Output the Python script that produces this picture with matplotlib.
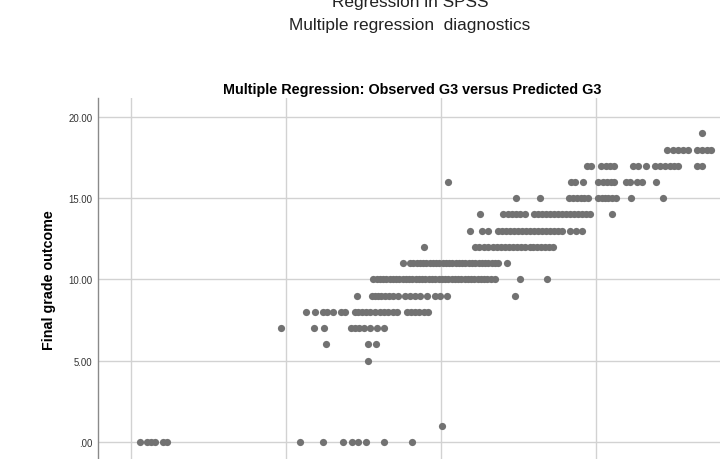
import numpy as np
import matplotlib
matplotlib.use("Agg")
import matplotlib.pyplot as plt

plt.rcParams['font.family'] = ['Liberation Sans', 'DejaVu Sans']

# predicted G3 values, grouped by observed final grade (G3)
g0 = [0.29, 0.52, 0.65, 0.77, 1.03, 1.16, 5.45, 6.19, 6.84, 7.13, 7.32, 7.58, 8.16, 9.06]
g1 = [10.02]
g5 = [7.64]
g6 = [6.29, 7.64, 7.90]
g7 = [4.83, 5.89, 6.24, 7.10, 7.23, 7.35, 7.52, 7.71, 7.94, 8.16]
g8 = [5.64, 5.94, 6.19, 6.32, 6.52, 6.77, 6.90, 7.23, 7.32, 7.45, 7.58, 7.71, 7.87,
      8.03, 8.16, 8.29, 8.45, 8.58, 8.90, 9.03, 9.16, 9.29, 9.45, 9.58]
g9 = [7.29, 7.77, 7.87, 7.97, 8.06, 8.19, 8.32, 8.45, 8.61, 8.84, 9.00, 9.16, 9.32,
      9.55, 9.81, 9.97, 10.18, 12.39]
g10 = [7.81, 7.92, 8.03, 8.13, 8.24, 8.35, 8.45, 8.55, 8.66, 8.76, 8.87, 8.97, 9.08,
       9.18, 9.29, 9.39, 9.50, 9.60, 9.71, 9.82, 9.92, 10.03, 10.13, 10.24, 10.34,
       10.45, 10.55, 10.66, 10.76, 10.87, 10.97, 11.08, 11.18, 11.29, 11.39, 11.50,
       11.61, 11.74, 12.55, 13.42]
g11 = [8.76, 9.00, 9.10, 9.21, 9.32, 9.42, 9.53, 9.63, 9.74, 9.84, 9.95, 10.05, 10.16,
       10.26, 10.37, 10.47, 10.58, 10.68, 10.79, 10.89, 11.00, 11.10, 11.21, 11.31,
       11.42, 11.52, 11.63, 11.73, 11.84, 12.14]
g12 = [9.45, 11.10, 11.24, 11.39, 11.53, 11.68, 11.81, 11.94, 12.06, 12.19, 12.32,
       12.45, 12.58, 12.71, 12.87, 12.97, 13.10, 13.23, 13.35, 13.48, 13.61]
g13 = [10.94, 11.31, 11.52, 11.84, 11.97, 12.10, 12.23, 12.35, 12.48, 12.61, 12.74,
       12.87, 13.00, 13.13, 13.26, 13.39, 13.52, 13.65, 13.77, 13.90, 14.16, 14.35, 14.55]
g14 = [11.26, 12.00, 12.15, 12.29, 12.42, 12.56, 12.71, 13.00, 13.13, 13.26, 13.39,
       13.52, 13.65, 13.77, 13.90, 14.03, 14.16, 14.29, 14.42, 14.55, 14.68, 14.81, 15.51]
g15 = [12.41, 13.19, 14.14, 14.27, 14.40, 14.51, 14.61, 14.75, 15.07, 15.18, 15.29,
       15.39, 15.50, 15.64, 16.14, 17.17]
g16 = [10.22, 14.18, 14.32, 14.57, 15.06, 15.22, 15.35, 15.47, 15.59, 15.96, 16.10,
       16.31, 16.47, 16.93]
g17 = [14.70, 14.83, 15.16, 15.32, 15.45, 15.58, 16.20, 16.36, 16.61, 16.90, 17.06,
       17.23, 17.39, 17.52, 17.65, 18.25, 18.41]
g18 = [17.29, 17.48, 17.65, 17.81, 17.97, 18.25, 18.41, 18.57, 18.70]
g19 = [18.43]

groups = {0: g0, 1: g1, 5: g5, 6: g6, 7: g7, 8: g8, 9: g9, 10: g10, 11: g11,
          12: g12, 13: g13, 14: g14, 15: g15, 16: g16, 17: g17, 18: g18, 19: g19}

y_ticks = [0, 5, 10, 15, 20]
y_tick_labels = ['.00', '5.00', '10.00', '15.00', '20.00']
x_ticks = [0, 5, 10, 15, 20]

pred = []
obs = []
for grade, vals in groups.items():
    pred += vals
    obs += [grade] * len(vals)

fig = plt.figure(figsize=(7.2, 4.6), dpi=100)
fig.patch.set_facecolor('white')

# axes runs off the right and bottom edge, like the cropped screenshot
ax = fig.add_axes([97.5 / 720, -20 / 460, 662.5 / 720, 381 / 460])
ax.set_xlim(-1.08, 20.29)
ax.set_ylim(-2.28, 21.17)

ax.set_axisbelow(True)
ax.grid(True, color='#d2d2d2', linewidth=1.0)
ax.scatter(pred, obs, s=27, color='#727272', linewidths=0, zorder=3)

ax.set_yticks(y_ticks)
ax.set_yticklabels(y_tick_labels)
ax.set_xticks(x_ticks)
ax.tick_params(axis='y', length=0, pad=3.5, labelsize=6.9, labelcolor='#333333')
# x labels sit below the visible crop
ax.tick_params(axis='x', length=0, labelbottom=False)

for s in ['top', 'right', 'bottom']:
    ax.spines[s].set_visible(False)
ax.spines['left'].set_color('#8a8a8a')
ax.spines['left'].set_linewidth(1.0)

fig.text(410 / 720, 1 - 6.5 / 460, 'Regression in SPSS', ha='center', va='baseline',
         fontsize=12.4, color='#222222')
fig.text(410 / 720, 1 - 30 / 460, 'Multiple regression  diagnostics', ha='center',
         va='baseline', fontsize=12.4, color='#222222')
fig.text(412 / 720, 1 - 94 / 460, 'Multiple Regression: Observed G3 versus Predicted G3',
         ha='center', va='baseline', fontsize=10.4, fontweight='bold', color='black')
fig.text(49 / 720, 1 - 280 / 460, 'Final grade outcome', rotation=90, ha='center',
         va='center', fontsize=10.3, fontweight='bold', color='black')

fig.savefig('out.png', dpi=100)
